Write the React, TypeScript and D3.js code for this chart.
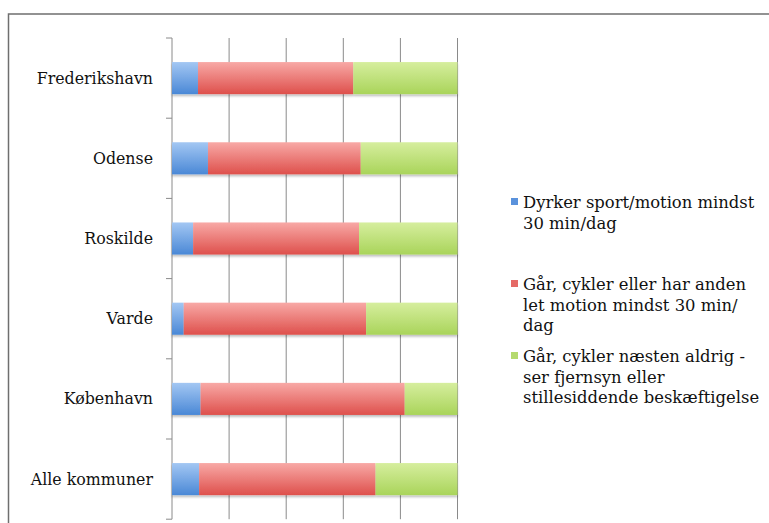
import * as d3 from "d3";
import { useEffect, useRef } from "react";

// kategorier, top til bund
const categories = ["Frederikshavn", "Odense", "Roskilde", "Varde", "København", "Alle kommuner"];

// andele i procent
const sportValues = [9.1, 12.6, 7.4, 4.1, 10.0, 9.5];
const letMotionValues = [54.4, 53.5, 58.1, 63.9, 71.5, 61.8];
const aldrigValues = [36.5, 33.9, 34.5, 32.0, 18.5, 28.7];

const seriesNames = [
	["Dyrker sport/motion mindst", "30 min/dag"],
	["Går, cykler eller har anden", "let motion mindst 30 min/", "dag"],
	["Går, cykler næsten aldrig -", "ser fjernsyn eller", "stillesiddende beskæftigelse"],
];

const xTicks = [0, 20, 40, 60, 80, 100];

const colors = [
	{ top: "#a3c7f3", bottom: "#4a88d6", flat: "#5a92dc" },
	{ top: "#f8a9a6", bottom: "#de504c", flat: "#e56a66" },
	{ top: "#d6ee9e", bottom: "#a9d45a", flat: "#b5da6e" },
];

export default function App() {
	const ref = useRef<SVGSVGElement>(null);

	useEffect(() => {
		const svg = d3.select(ref.current);
		svg.selectAll("*").remove();

		const width = 769;
		const height = 523;
		const font = '"DejaVu Serif", "Liberation Serif", serif';
		const fontSize = 15.8;
		const legendSize = 16.4;

		const defs = svg.append("defs");
		colors.forEach((c, i) => {
			const g = defs
				.append("linearGradient")
				.attr("id", "grad" + i)
				.attr("x1", 0)
				.attr("y1", 0)
				.attr("x2", 0)
				.attr("y2", 1);
			g.append("stop").attr("offset", "0%").attr("stop-color", c.top);
			g.append("stop").attr("offset", "100%").attr("stop-color", c.bottom);
		});
		const shadow = defs.append("filter").attr("id", "shadow").attr("height", "150%");
		shadow
			.append("feDropShadow")
			.attr("dx", 0)
			.attr("dy", 2)
			.attr("stdDeviation", 1.2)
			.attr("flood-color", "#000")
			.attr("flood-opacity", 0.25);

		svg.append("rect").attr("width", width).attr("height", height).attr("fill", "#fff");

		// ramme
		svg.append("rect")
			.attr("x", 8.5)
			.attr("y", 14)
			.attr("width", width + 10)
			.attr("height", height + 10)
			.attr("fill", "none")
			.attr("stroke", "#6f6f6f")
			.attr("stroke-width", 1.5);

		const margin = { left: 172, top: 38 };
		const plotW = 285.5;
		const plotH = 481.2;

		const x = d3.scaleLinear().domain([0, 100]).range([margin.left, margin.left + plotW]);
		const y = d3
			.scaleBand()
			.domain(categories)
			.range([margin.top, margin.top + plotH])
			.paddingInner(0.6)
			.paddingOuter(0.3);
		const band = d3.scaleBand().domain(categories).range([margin.top, margin.top + plotH]);

		// gitterlinjer
		svg.append("g")
			.selectAll("line")
			.data(xTicks.slice(1))
			.enter()
			.append("line")
			.attr("x1", (d) => x(d))
			.attr("x2", (d) => x(d))
			.attr("y1", margin.top)
			.attr("y2", margin.top + plotH)
			.attr("stroke", "#8a8a8a")
			.attr("stroke-width", 1);

		// y-akse
		svg.append("line")
			.attr("x1", x(0))
			.attr("x2", x(0))
			.attr("y1", margin.top)
			.attr("y2", margin.top + plotH)
			.attr("stroke", "#8a8a8a");
		const tickYs = categories.map((c) => band(c)!).concat([margin.top + plotH]);
		svg.append("g")
			.selectAll("line")
			.data(tickYs)
			.enter()
			.append("line")
			.attr("x1", x(0) - 6)
			.attr("x2", x(0))
			.attr("y1", (d) => d)
			.attr("y2", (d) => d)
			.attr("stroke", "#8a8a8a");

		// stablede søjler
		const rows = categories.map((c, i) => ({
			cat: c,
			vals: [sportValues[i], letMotionValues[i], aldrigValues[i]],
		}));
		rows.forEach((r) => {
			let acc = 0;
			const total = d3.sum(r.vals);
			const g = svg.append("g").attr("filter", "url(#shadow)");
			r.vals.forEach((v, k) => {
				const x0 = (acc / total) * 100;
				acc += v;
				const x1 = (acc / total) * 100;
				g.append("rect")
					.attr("x", x(x0))
					.attr("y", y(r.cat)!)
					.attr("width", x(x1) - x(x0))
					.attr("height", y.bandwidth())
					.attr("fill", "url(#grad" + k + ")");
			});
		});

		// kategori-etiketter
		svg.append("g")
			.selectAll("text")
			.data(categories)
			.enter()
			.append("text")
			.attr("x", 153)
			.attr("y", (d) => band(d)! + band.bandwidth() / 2)
			.attr("dy", "0.35em")
			.attr("text-anchor", "end")
			.style("font-family", font)
			.style("font-size", fontSize + "px")
			.attr("fill", "#111")
			.text((d) => d);

		// legende
		const legendBaselines = [208, 290, 362];
		const lineH = 20.7;
		seriesNames.forEach((lines, k) => {
			const base = legendBaselines[k];
			svg.append("rect")
				.attr("x", 511)
				.attr("y", base - 10)
				.attr("width", 7)
				.attr("height", 7)
				.attr("fill", colors[k].flat);
			const t = svg
				.append("text")
				.style("font-family", font)
				.style("font-size", legendSize + "px")
				.attr("fill", "#111");
			lines.forEach((l, j) => {
				t.append("tspan").attr("x", 523).attr("y", base + j * lineH).text(l);
			});
		});
	}, []);

	return (
		<svg
			ref={ref}
			width={769}
			height={523}
			style={{ position: "fixed", left: 0, top: 0, display: "block" }}
		></svg>
	);
}
